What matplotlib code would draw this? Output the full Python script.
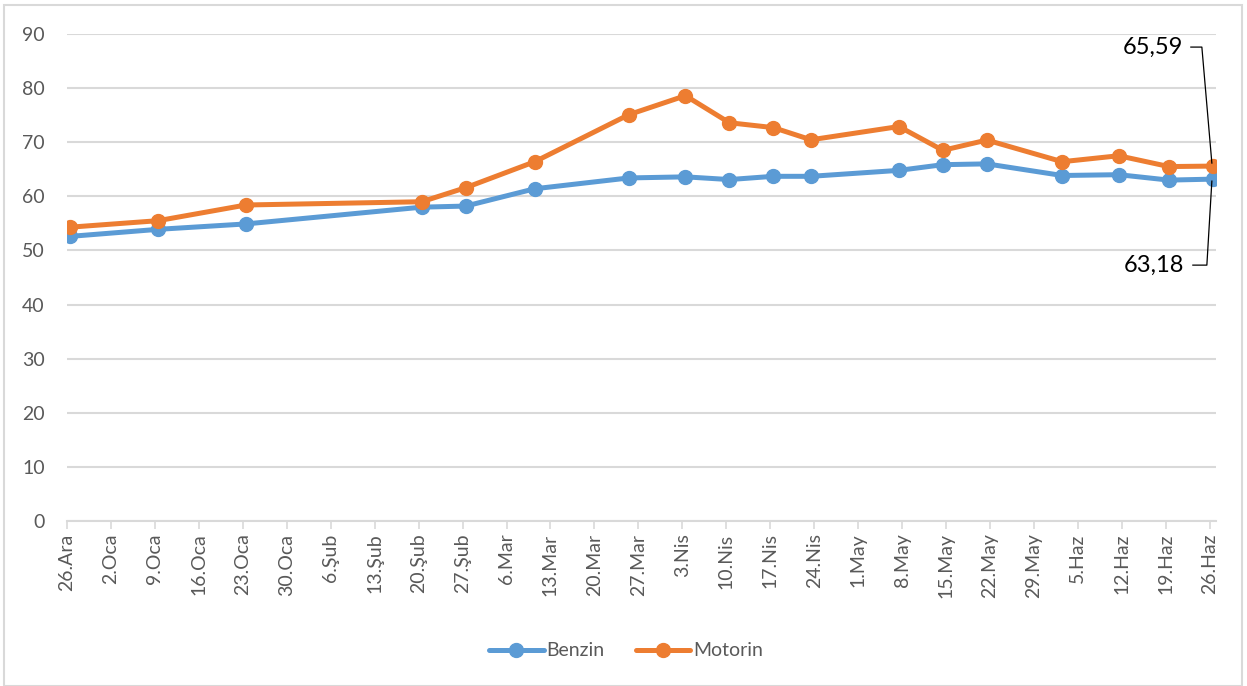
import matplotlib
matplotlib.use("Agg")
import matplotlib.pyplot as plt
import matplotlib.dates as mdates
from matplotlib.transforms import ScaledTranslation
from matplotlib.patches import Rectangle
import datetime as dt
import numpy as np

plt.rcParams['font.family'] = ['Lato', 'DejaVu Sans']

# ---- data ----
dates = ["2021-12-26", "2022-01-09", "2022-01-23", "2022-02-20", "2022-02-27",
         "2022-03-10", "2022-03-25", "2022-04-03", "2022-04-10", "2022-04-17",
         "2022-04-23", "2022-05-07", "2022-05-14", "2022-05-21", "2022-06-02",
         "2022-06-11", "2022-06-19", "2022-06-26"]
benzin = [52.6, 53.9, 54.9, 58.0, 58.2, 61.4, 63.4, 63.6, 63.1, 63.7,
          63.7, 64.8, 65.85, 66.0, 63.85, 64.0, 63.0, 63.18]
motorin = [54.3, 55.5, 58.4, 59.0, 61.6, 66.4, 75.1, 78.6, 73.6, 72.7,
           70.45, 72.9, 68.5, 70.4, 66.4, 67.5, 65.5, 65.59]
tick_dates_start = "2021-12-26"
tick_labels = ["26.Ara", "2.Oca", "9.Oca", "16.Oca", "23.Oca", "30.Oca", "6.Şub",
               "13.Şub", "20.Şub", "27.Şub", "6.Mar", "13.Mar", "20.Mar", "27.Mar",
               "3.Nis", "10.Nis", "17.Nis", "24.Nis", "1.May", "8.May", "15.May",
               "22.May", "29.May", "5.Haz", "12.Haz", "19.Haz", "26.Haz"]
series_names = ["Benzin", "Motorin"]
end_labels = ["63,18", "65,59"]
y_ticks = [0, 10, 20, 30, 40, 50, 60, 70, 80, 90]

# ---- figure ----
W, H = 1247, 686
fig = plt.figure(figsize=(W / 100, H / 100), dpi=100)
ax = fig.add_axes([67 / W, 1 - 521 / H, (1216 - 67) / W, (521 - 34) / H])

x = mdates.date2num([dt.datetime.strptime(d, "%Y-%m-%d") for d in dates]) + 0.5
t0 = mdates.date2num(dt.datetime.strptime(tick_dates_start, "%Y-%m-%d"))
ticks = t0 + 7 * np.arange(len(tick_labels))

blue = "#5B9BD5"
orange = "#ED7D31"
gray = "#595959"
grid = "#D9D9D9"

ax.plot(x, benzin, color=blue, lw=3.6, marker="o", ms=10, label=series_names[0],
        solid_capstyle="round", zorder=3)
ax.plot(x, motorin, color=orange, lw=3.6, marker="o", ms=10, label=series_names[1],
        solid_capstyle="round", zorder=3)

ax.set_xlim(t0, ticks[-1] + 1)
ax.set_ylim(0, 90)
ax.set_yticks(y_ticks)
ax.set_xticks(ticks)
ax.set_xticklabels(tick_labels, rotation=90, fontsize=14, color=gray)
ax.tick_params(axis="y", length=0, pad=16, labelsize=14, labelcolor=gray)
ax.tick_params(axis="x", length=6, width=1.2, color=grid, pad=3)
ax.grid(axis="y", color=grid, lw=1.5)
ax.set_axisbelow(True)
for s in ["top", "right", "left"]:
    ax.spines[s].set_visible(False)
ax.spines["bottom"].set_color(grid)
ax.spines["bottom"].set_linewidth(1.5)

# end labels with leader lines
def leader(xv, yv, text, text_off, pts):
    tr = fig.dpi_scale_trans + ScaledTranslation(xv, yv, ax.transData)
    px = [p[0] for p in pts]
    py = [p[1] for p in pts]
    ax.plot(px, py, color="black", lw=0.9, transform=tr, clip_on=False, zorder=4)
    ax.text(text_off[0], text_off[1], text, transform=tr, ha="right", va="center",
            fontsize=17, color="black", clip_on=False)

leader(x[-1], motorin[-1], end_labels[1], (-0.30, 1.19),
       [(-0.22, 1.19), (-0.11, 1.19), (-0.01, 0.03)])
leader(x[-1], benzin[-1], end_labels[0], (-0.29, -0.86),
       [(-0.20, -0.86), (-0.06, -0.86), (-0.01, -0.02)])

leg = fig.legend(loc="center", bbox_to_anchor=(626 / W, 1 - 651 / H), ncol=2,
                 frameon=False, fontsize=14, handlelength=2.8, handletextpad=0.15,
                 columnspacing=1.6, labelcolor=gray)

fig.patches.append(Rectangle((4 / W, 0.5 / H), (1242 - 4) / W, (681 - 0.5) / H,
                             transform=fig.transFigure, fill=False,
                             edgecolor=grid, lw=1.5))

fig.savefig("out.png", dpi=100)
